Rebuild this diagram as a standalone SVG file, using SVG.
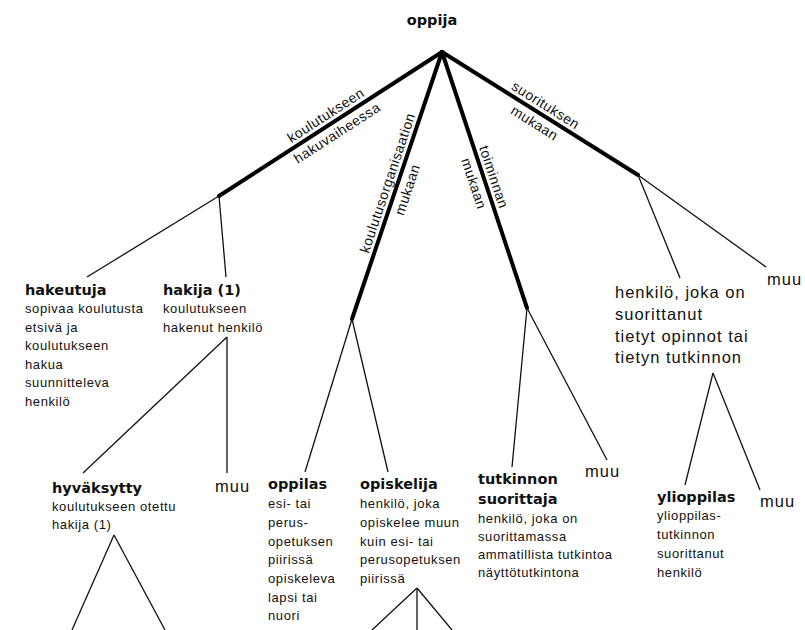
<svg xmlns="http://www.w3.org/2000/svg" width="805" height="630" viewBox="0 0 805 630">
<style>
.t{font-family:"DejaVu Sans",Verdana,sans-serif;font-weight:bold;font-size:14.5px;fill:#111}
.b{font-family:"Liberation Sans",Arial,sans-serif;font-size:13px;letter-spacing:0.6px;fill:#111}
.m{font-family:"Liberation Sans",Arial,sans-serif;font-size:16.5px;letter-spacing:1px;fill:#111}
.r{font-family:"Liberation Sans",Arial,sans-serif;font-size:14px;letter-spacing:0.5px;fill:#111;text-anchor:middle}
.thick{stroke:#000;stroke-width:4;fill:none;stroke-linecap:round}
.thin{stroke:#111;stroke-width:1.3;fill:none}
</style>
<rect width="805" height="630" fill="#fff"/>
<g id="connectors">
<line class="thick" x1="442" y1="52" x2="219" y2="196"/>
<line class="thick" x1="442" y1="52" x2="352" y2="319"/>
<line class="thick" x1="442" y1="52" x2="527" y2="308"/>
<line class="thick" x1="442" y1="52" x2="638" y2="175"/>
<line class="thin" x1="219" y1="196" x2="87" y2="277"/>
<line class="thin" x1="219" y1="196" x2="226" y2="277"/>
<line class="thin" x1="227" y1="337" x2="227" y2="473"/>
<line class="thin" x1="227" y1="337" x2="83" y2="473"/>
<line class="thin" x1="114" y1="535" x2="72" y2="630"/>
<line class="thin" x1="114" y1="535" x2="165" y2="630"/>
<line class="thin" x1="352" y1="319" x2="305" y2="472"/>
<line class="thin" x1="352" y1="319" x2="388" y2="472"/>
<line class="thin" x1="417" y1="588" x2="372" y2="630"/>
<line class="thin" x1="417" y1="588" x2="417" y2="630"/>
<line class="thin" x1="417" y1="588" x2="452" y2="630"/>
<line class="thin" x1="527" y1="308" x2="512" y2="467"/>
<line class="thin" x1="527" y1="308" x2="607" y2="460"/>
<line class="thin" x1="638" y1="175" x2="680" y2="278"/>
<line class="thin" x1="638" y1="175" x2="766" y2="267"/>
<line class="thin" x1="713" y1="373" x2="685" y2="485"/>
<line class="thin" x1="713" y1="373" x2="760" y2="490"/>
</g>
<g id="edge-labels">
<g transform="translate(331,123.5) rotate(-32.9)">
<text class="r" x="0" y="-5">koulutukseen</text>
<text class="r" x="0" y="16">hakuvaiheessa</text>
</g>
<g transform="translate(396.8,186) rotate(-71.4)">
<text class="r" x="0" y="-5">koulutusorganisaation</text>
<text class="r" x="0" y="16">mukaan</text>
</g>
<g transform="translate(484.5,180.1) rotate(71.6)">
<text class="r" x="0" y="-5">toiminnan</text>
<text class="r" x="0" y="16">mukaan</text>
</g>
<g transform="translate(540.5,113.5) rotate(32.1)">
<text class="r" x="0" y="-5">suorituksen</text>
<text class="r" x="0" y="16">mukaan</text>
</g>
</g>
<g id="oppija"><text class="t" x="432" y="25" text-anchor="middle">oppija</text></g>
<g id="hakeutuja">
<text class="t" x="25" y="295">hakeutuja</text>
<text class="b"><tspan x="25" y="313">sopivaa koulutusta</tspan><tspan x="25" y="332">etsivä ja</tspan><tspan x="25" y="350">koulutukseen</tspan><tspan x="25" y="369">hakua</tspan><tspan x="25" y="387">suunnitteleva</tspan><tspan x="25" y="406">henkilö</tspan></text>
</g>
<g id="hakija">
<text class="t" x="163" y="295">hakija (1)</text>
<text class="b"><tspan x="163" y="313">koulutukseen</tspan><tspan x="163" y="332">hakenut henkilö</tspan></text>
</g>
<g id="hyvaksytty">
<text class="t" x="52" y="493">hyväksytty</text>
<text class="b"><tspan x="52" y="511">koulutukseen otettu</tspan><tspan x="52" y="529">hakija (1)</tspan></text>
</g>
<g id="muu1"><text class="m" x="215" y="492">muu</text></g>
<g id="oppilas">
<text class="t" x="268" y="489">oppilas</text>
<text class="b"><tspan x="268" y="508">esi- tai</tspan><tspan x="268" y="527">perus-</tspan><tspan x="268" y="546">opetuksen</tspan><tspan x="268" y="564">piirissä</tspan><tspan x="268" y="583">opiskeleva</tspan><tspan x="268" y="602">lapsi tai</tspan><tspan x="268" y="620">nuori</tspan></text>
</g>
<g id="opiskelija">
<text class="t" x="360" y="489">opiskelija</text>
<text class="b"><tspan x="360" y="508">henkilö, joka</tspan><tspan x="360" y="527">opiskelee muun</tspan><tspan x="360" y="546">kuin esi- tai</tspan><tspan x="360" y="564">perusopetuksen</tspan><tspan x="360" y="583">piirissä</tspan></text>
</g>
<g id="tutkinnon-suorittaja">
<text class="t"><tspan x="478" y="484">tutkinnon</tspan><tspan x="478" y="504">suorittaja</tspan></text>
<text class="b"><tspan x="478" y="523">henkilö, joka on</tspan><tspan x="478" y="541">suorittamassa</tspan><tspan x="478" y="559">ammatillista tutkintoa</tspan><tspan x="478" y="577">näyttötutkintona</tspan></text>
</g>
<g id="muu2"><text class="m" x="585" y="477">muu</text></g>
<g id="suorittanut">
<text class="m"><tspan x="615" y="298">henkilö, joka on</tspan><tspan x="615" y="320">suorittanut</tspan><tspan x="615" y="342">tietyt opinnot tai</tspan><tspan x="615" y="363">tietyn tutkinnon</tspan></text>
</g>
<g id="muu3"><text class="m" x="767" y="285">muu</text></g>
<g id="ylioppilas">
<text class="t" x="657" y="502">ylioppilas</text>
<text class="b"><tspan x="657" y="520">ylioppilas-</tspan><tspan x="657" y="539">tutkinnon</tspan><tspan x="657" y="558">suorittanut</tspan><tspan x="657" y="577">henkilö</tspan></text>
</g>
<g id="muu4"><text class="m" x="760" y="507">muu</text></g>
</svg>
